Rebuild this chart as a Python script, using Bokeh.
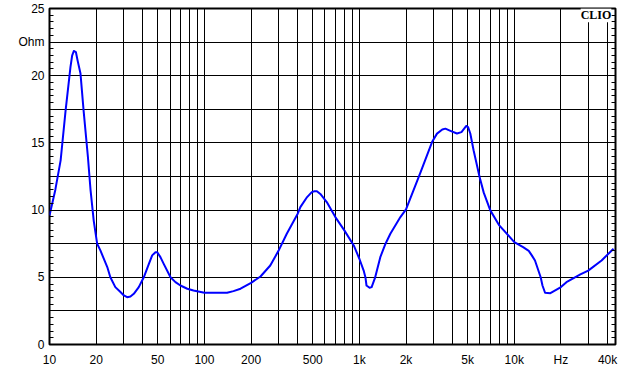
from bokeh.plotting import figure
from bokeh.models import FixedTicker, LinearAxis, Label, Range1d, ColumnDataSource
from bokeh.embed import file_html
from bokeh.resources import INLINE

# impedance curve
freq = [10, 10.9, 11.8, 12.7, 13.66, 14.0, 14.35, 14.8, 15.2, 15.85, 16.6, 17.7, 18.4, 19.3,
        20.3, 21.3, 23.6, 24.7, 26.6, 28.7, 30.2, 31.7, 33.3, 35, 37.7, 40.6, 43.8, 46, 48.3,
        49.6, 52, 54.6, 60.4, 65, 70, 77.5, 85, 100, 140, 154, 171, 200, 230, 266, 300, 340,
        400, 416, 460, 493, 513, 532, 560, 616, 700, 800, 920, 1000, 1066, 1094, 1112, 1164,
        1200, 1265, 1365, 1475, 1585, 1840, 2000, 2485, 2945, 3170, 3430, 3590, 3870, 4265,
        4560, 4900, 5030, 5200, 5460, 5970, 6350, 7000, 8000, 10000, 11400, 12400, 12970,
        13600, 14800, 15200, 15800, 17100, 20000, 21700, 26700, 30000, 36600, 43700]
ohm = [9.6, 11.5, 13.7, 17.4, 20.65, 21.5, 21.84, 21.76, 21.1, 20.16, 17.4, 13.95, 11.5, 9.2,
       7.5, 7.0, 5.76, 5.0, 4.27, 3.9, 3.65, 3.52, 3.57, 3.77, 4.27, 5.0, 6.0, 6.63, 6.87,
       6.87, 6.5, 6.0, 5.0, 4.64, 4.39, 4.15, 4.02, 3.85, 3.85, 3.97, 4.15, 4.59, 5.06, 5.88, 6.95, 8.24,
       9.73, 10.22, 10.97, 11.34, 11.4, 11.41, 11.2, 10.6, 9.48, 8.49, 7.37, 6.38, 5.5, 5.01, 4.39, 4.22,
       4.27, 5.0, 6.5, 7.5, 8.24, 9.48, 10.05, 12.83, 15.06, 15.69, 16.0, 16.06, 15.9, 15.7,
       15.8, 16.26, 16.18, 15.7, 14.45, 12.46, 11.3, 9.98, 8.86, 7.62, 7.24, 6.97, 6.63,
       6.25, 5.0, 4.39, 3.85, 3.82, 4.27, 4.64, 5.21, 5.5, 6.25, 7.13]

x_tick_values = [10, 20, 50, 100, 200, 500, 1000, 2000, 5000, 10000, 20000, 40000]
x_tick_labels = ["10", "20", "50", "100", "200", "500", "1k", "2k", "5k", "10k", "Hz", "40k"]
y_tick_values = [0, 5, 10, 15, 20, 22.5, 25]
y_tick_labels = ["0", "5", "10", "15", "20", "Ohm", "25"]

x_grid = [m * 10 ** d for d in range(1, 5) for m in range(1, 10) if m * 10 ** d <= 40000]
y_grid = [i * 2.5 for i in range(0, 11)]
y_minor = [i * 0.5 for i in range(0, 51)]

p = figure(width=640, height=374, x_axis_type="log", output_backend="svg",
           toolbar_location=None, x_range=Range1d(10, 45000), y_range=Range1d(0, 25),
           min_border_left=49, min_border_right=25, min_border_top=8, min_border_bottom=30)
p.outline_line_color = "black"
p.outline_line_width = 2
p.background_fill_color = "white"
p.border_fill_color = "white"

p.xgrid.ticker = FixedTicker(ticks=x_grid)
p.ygrid.ticker = FixedTicker(ticks=y_grid)
for g in (p.xgrid[0], p.ygrid[0]):
    g.grid_line_color = "black"
    g.grid_line_width = 1
    g.grid_line_alpha = 1.0

xa = p.xaxis[0]
xa.ticker = FixedTicker(ticks=x_tick_values)
xa.major_label_overrides = {v: l for v, l in zip(x_tick_values, x_tick_labels)}
ya = p.yaxis[0]
ya.ticker = FixedTicker(ticks=y_tick_values, minor_ticks=y_minor)
ya.major_label_overrides = {v: l for v, l in zip(y_tick_values, y_tick_labels)}

for ax in (xa, ya):
    ax.axis_line_color = None
    ax.major_tick_in = 0
    ax.major_tick_out = 0
    ax.minor_tick_out = 0
    ax.major_label_text_font = "Liberation Sans"
    ax.major_label_text_font_size = "12px"
    ax.major_label_text_color = "black"
xa.minor_tick_line_color = None
xa.major_label_standoff = 8
ya.minor_tick_in = 4
ya.minor_tick_line_color = "black"
ya.major_label_standoff = 5

ra = LinearAxis(ticker=FixedTicker(ticks=y_tick_values, minor_ticks=y_minor),
                axis_line_color=None, major_tick_in=0, major_tick_out=0,
                minor_tick_in=4, minor_tick_out=0, minor_tick_line_color="black",
                major_label_text_alpha=0, major_label_text_font_size="1px")
p.add_layout(ra, "right")

src = ColumnDataSource(dict(f=freq, z=ohm))
p.line("f", "z", source=src, line_color="#0000ff", line_width=2, line_join="round")

p.add_layout(Label(x=42300, y=24.5, text="CLIO", text_align="right", text_baseline="middle",
                   text_font="Liberation Serif", text_font_style="bold", text_font_size="12px",
                   text_color="black", background_fill_color="white"))

open("out.html", "w").write(file_html(p, INLINE))
